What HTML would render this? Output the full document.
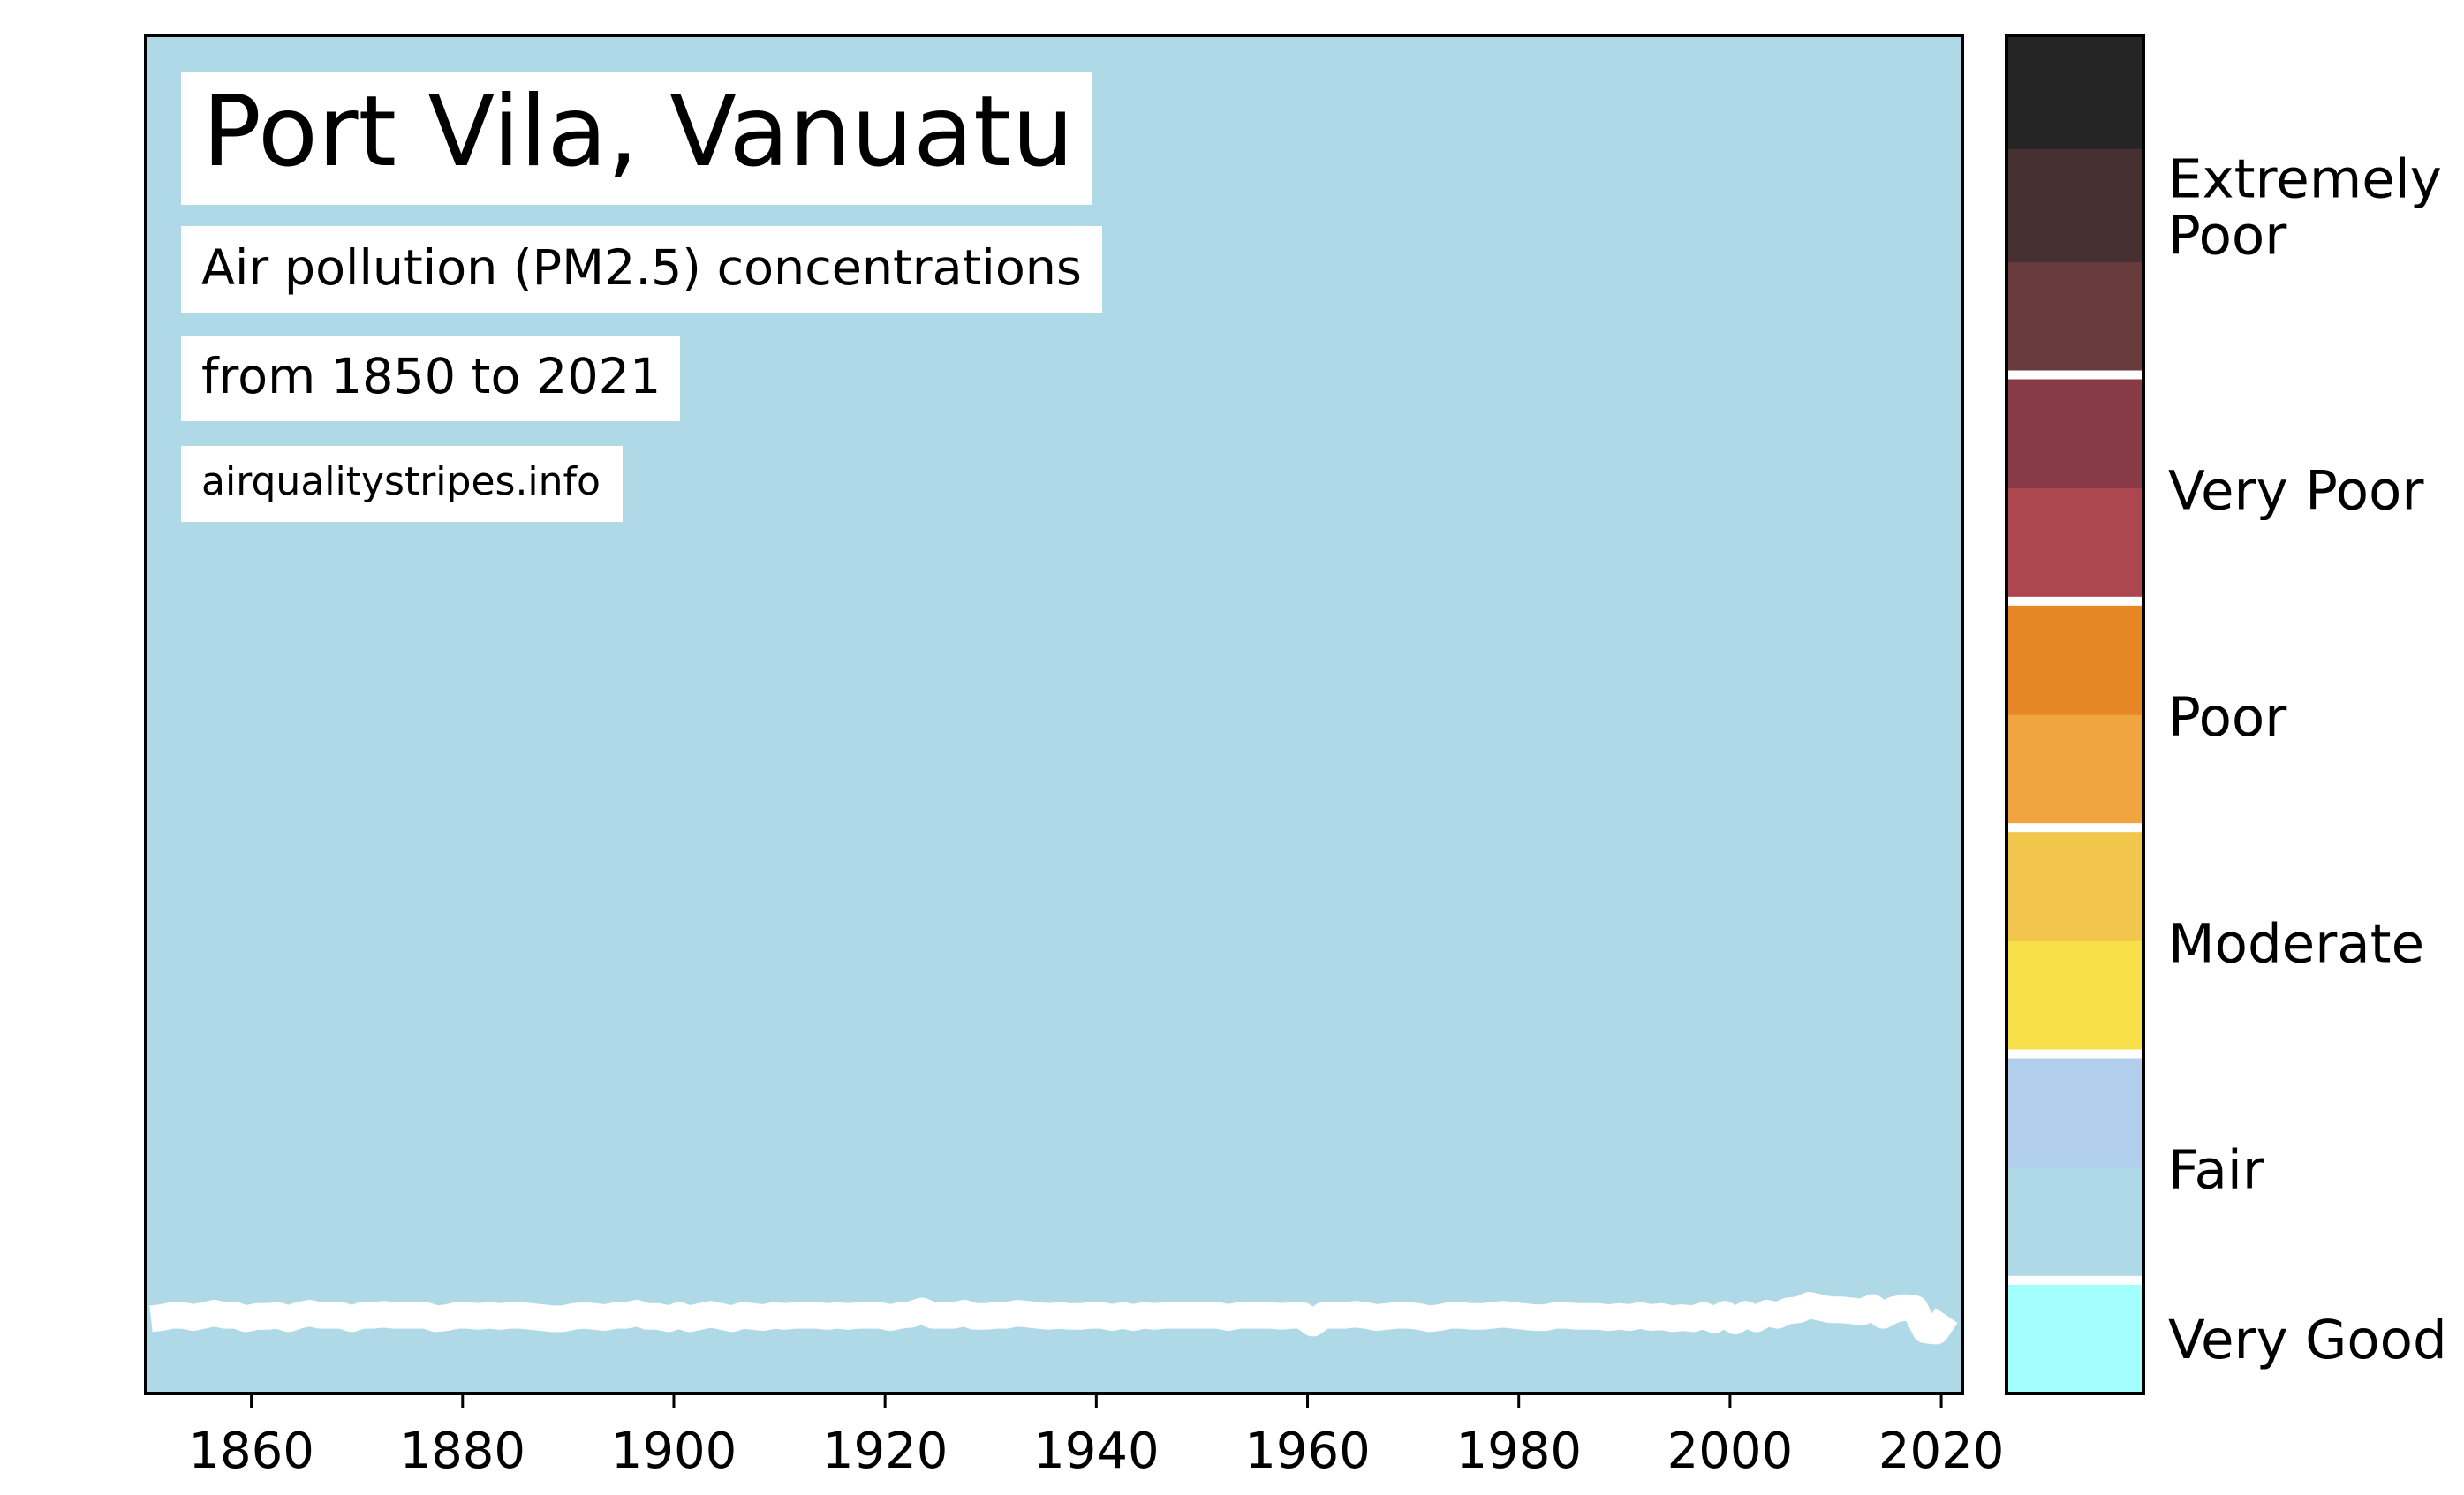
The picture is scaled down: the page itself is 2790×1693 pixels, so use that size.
<!DOCTYPE html>
<html><head><meta charset="utf-8"><style>
html,body{margin:0;padding:0;background:#fff;}
svg{display:block;font-family:"DejaVu Sans","Liberation Sans",sans-serif;}
</style></head><body>
<svg id="chart" width="2790" height="1693" viewBox="0 0 2790 1693" xmlns="http://www.w3.org/2000/svg">
<rect x="165" y="40" width="2057" height="1538" fill="#b0d9e8"/>
<g id="series"></g>
<rect x="165" y="40" width="2057" height="1538" fill="none" stroke="#000" stroke-width="4"/>
<g id="xaxis"></g>
<rect x="205" y="81" width="1032" height="151" fill="#fff"/>
<text x="229" y="187" font-size="111" fill="#000">Port Vila, Vanuatu</text>
<rect x="205" y="256" width="1043" height="99" fill="#fff"/>
<text x="228" y="322" font-size="55.5" fill="#000">Air pollution (PM2.5) concentrations</text>
<rect x="205" y="380" width="565" height="97" fill="#fff"/>
<text x="228" y="445" font-size="55.5" fill="#000">from 1850 to 2021</text>
<rect x="205" y="505" width="500" height="86" fill="#fff"/>
<text x="228" y="560" font-size="44" fill="#000">airqualitystripes.info</text>
<g id="cbar"></g>
</svg>
<script>
const years = [];
for (let y = 1850; y <= 2021; y++) years.push(y);
const pm25 = [
6.6,6.7,6.9,6.9,6.7,6.9,7.1,6.9,6.9,6.6,6.8,6.8,6.9,6.6,6.9,7.1,6.9,6.9,6.9,6.6,
6.9,6.9,7.0,6.9,6.9,6.9,6.9,6.6,6.7,6.9,6.9,6.8,6.9,6.8,6.9,6.9,6.8,6.7,6.6,6.6,
6.8,6.9,6.8,6.7,6.9,6.9,7.1,6.8,6.8,6.6,6.9,6.6,6.8,7.0,6.8,6.6,6.9,6.8,6.7,6.9,
6.8,6.9,6.9,6.9,6.8,6.9,6.8,6.9,6.9,6.9,6.7,6.9,7.0,7.3,6.9,6.9,6.9,7.1,6.8,6.8,
6.9,6.9,7.1,7.0,6.9,6.8,6.9,6.8,6.8,6.9,6.9,6.7,6.9,6.7,6.9,6.8,6.9,6.9,6.9,6.9,
6.9,6.9,6.7,6.9,6.9,6.9,6.9,6.8,6.9,6.9,6.2,6.9,6.9,6.9,7.0,6.9,6.7,6.8,6.9,6.9,
6.8,6.6,6.7,6.9,6.9,6.8,6.8,6.9,7.0,6.9,6.8,6.7,6.7,6.9,6.9,6.8,6.8,6.8,6.7,6.8,
6.7,6.9,6.7,6.8,6.6,6.7,6.6,6.9,6.5,7.0,6.4,7.0,6.6,7.1,6.9,7.3,7.4,7.8,7.6,7.4,
7.4,7.3,7.2,7.6,6.9,7.4,7.6,7.5,5.6,5.5,6.9
];
const tickYears = [1860,1880,1900,1920,1940,1960,1980,2000,2020];
const catLabels = ["Very Good","Fair","Moderate","Poor","Very Poor","Extremely\nPoor"];
const catBins = [1,2,2,2,2,3];
const binColors = ["#a2fffd","#b0d9e8","#b1cfec","#f7e048","#f2c64c","#f0a540","#e78624","#ae4650","#883a46","#673a3c","#452f30","#252525"];

const NS = "http://www.w3.org/2000/svg";
const X0 = 165, X1 = 2222, Y0 = 40, Y1 = 1578;
const xMin = 1850, xMax = 2022, yMax = 120;
function xScale(yr){ return X0 + (yr + 0.5 - xMin) / (xMax - xMin) * (X1 - X0); }
function xTick(yr){ return X0 + (yr - xMin) / (xMax - xMin) * (X1 - X0); }
function yScale(v){ return Y1 - v / yMax * (Y1 - Y0); }

const g = document.getElementById('series');
const clip = document.createElementNS(NS, 'clipPath');
clip.setAttribute('id', 'pclip');
const cr = document.createElementNS(NS, 'rect');
cr.setAttribute('x', X0); cr.setAttribute('y', Y0); cr.setAttribute('width', X1 - X0); cr.setAttribute('height', Y1 - Y0);
clip.appendChild(cr);
g.appendChild(clip);
const pts = years.map((yr, i) => xScale(yr).toFixed(1) + ',' + yScale(pm25[i]).toFixed(1)).join(' ');
const line = document.createElementNS(NS, 'polyline');
line.setAttribute('points', pts);
line.setAttribute('fill', 'none');
line.setAttribute('stroke', '#fff');
line.setAttribute('stroke-width', '30');
line.setAttribute('stroke-linejoin', 'round');
line.setAttribute('clip-path', 'url(#pclip)');


g.appendChild(line);

const xa = document.getElementById('xaxis');
tickYears.forEach(t => {
  const x = xTick(t);
  const l = document.createElementNS(NS, 'line');
  l.setAttribute('x1', x); l.setAttribute('x2', x);
  l.setAttribute('y1', Y1); l.setAttribute('y2', Y1 + 17);
  l.setAttribute('stroke', '#000'); l.setAttribute('stroke-width', '3');
  
  
  xa.appendChild(l);
  const tx = document.createElementNS(NS, 'text');
  tx.setAttribute('x', x); tx.setAttribute('y', 1662);
  tx.setAttribute('text-anchor', 'middle'); tx.setAttribute('font-size', '56');
  tx.textContent = t;
  
  
  xa.appendChild(tx);
});

const cb = document.getElementById('cbar');
const CX0 = 2272, CX1 = 2427, binH = (Y1 - Y0) / binColors.length;
binColors.forEach((c, i) => {
  const r = document.createElementNS(NS, 'rect');
  r.setAttribute('x', CX0); r.setAttribute('width', CX1 - CX0);
  r.setAttribute('y', Y1 - (i + 1) * binH); r.setAttribute('height', binH + 0.5);
  r.setAttribute('fill', c);
  
  
  cb.appendChild(r);
});
let acc = 0;
catBins.forEach((n, k) => {
  const mid = Y1 - (acc + n / 2) * binH;
  acc += n;
  if (k < catBins.length - 1) {
    const s = document.createElementNS(NS, 'rect');
    s.setAttribute('x', CX0); s.setAttribute('width', CX1 - CX0);
    s.setAttribute('y', Y1 - acc * binH - 5); s.setAttribute('height', 10);
    s.setAttribute('fill', '#fff');
    
    
    cb.appendChild(s);
  }
  const lines = catLabels[k].split('\n');
  const tx = document.createElementNS(NS, 'text');
  tx.setAttribute('x', 2455); tx.setAttribute('font-size', '61');
  
  
  const base = mid + 24 - (lines.length - 1) * 33;
  lines.forEach((ln, j) => {
    const ts = document.createElementNS(NS, 'tspan');
    ts.setAttribute('x', 2455); ts.setAttribute('y', base + j * 64);
    ts.textContent = ln;
    tx.appendChild(ts);
  });
  cb.appendChild(tx);
});
const fr = document.createElementNS(NS, 'rect');
fr.setAttribute('x', CX0); fr.setAttribute('y', Y0); fr.setAttribute('width', CX1 - CX0); fr.setAttribute('height', Y1 - Y0);
fr.setAttribute('fill', 'none'); fr.setAttribute('stroke', '#000'); fr.setAttribute('stroke-width', '4');


cb.appendChild(fr);
</script>
</body></html>
